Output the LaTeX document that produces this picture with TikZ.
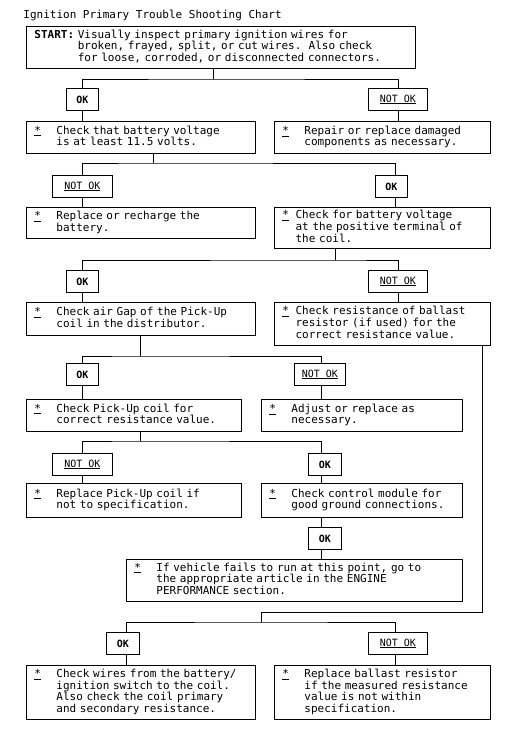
\documentclass[tikz,border=0pt]{standalone}
\usepackage{fontspec}
\setmainfont{DejaVu Sans Mono}
\begin{document}
\fontsize{11pt}{11pt}\selectfont
\newcommand{\stx}[2]{\begin{tabular}[c]{@{}p{#1}@{}l@{}}\underline{*}&\begin{tabular}[t]{@{}l@{}}#2\end{tabular}\end{tabular}}
\begin{tikzpicture}[x=1pt,y=-1pt,line width=0.8pt,
  box/.style={draw,anchor=north west,align=left,inner xsep=8pt,inner ysep=0pt,font=\fontsize{11pt}{11pt}\selectfont},
  ok/.style={draw,anchor=north west,inner sep=0pt,minimum height=22pt,font=\fontsize{10pt}{10pt}\selectfont\bfseries},
  nok/.style={draw,anchor=north west,inner sep=0pt,minimum height=22pt,font=\fontsize{10pt}{10pt}\selectfont}]
\useasboundingbox (0,0) rectangle (514,735);
\node[anchor=west,inner sep=0pt] (title) at (23,15) {Ignition Primary Trouble Shooting Chart};
\node[box,minimum width=389pt,minimum height=42pt,text width=373pt] (start) at (26,26)
 {\begin{tabular}{@{}l@{ }l@{}}\textbf{START:}&Visually inspect primary ignition wires for\\&broken, frayed, split, or cut wires.\ \ Also check\\&for loose, corroded, or disconnected connectors.\end{tabular}};
% level 1
\node[ok,minimum width=32pt] (ok1) at (66,88) {OK};
\node[nok,minimum width=59pt] (nok1) at (368,88) {\underline{NOT OK}};
\node[box,minimum width=229pt,minimum height=32pt,text width=213pt] (a) at (26,121) {\stx{2em}{Check that battery voltage\\is at least 11.5 volts.}};
\node[box,minimum width=216pt,minimum height=32pt,text width=200pt] (b) at (274,121) {\stx{2em}{Repair or replace damaged\\components as necessary.}};
% level 2
\node[nok,minimum width=60pt] (nok2) at (52,175) {\underline{NOT OK}};
\node[ok,minimum width=32pt] (ok2) at (375,175) {OK};
\node[box,minimum width=229pt,minimum height=31pt,text width=213pt] (c) at (26,207) {\stx{2em}{Replace or recharge the\\battery.}};
\node[box,minimum width=216pt,minimum height=41pt,text width=200pt] (d) at (274,207) {\stx{1.2em}{Check for battery voltage\\at the positive terminal of\\the coil.}};
% level 3
\node[ok,minimum width=32pt] (ok3) at (66,270) {OK};
\node[nok,minimum width=59pt] (nok3) at (368,270) {\underline{NOT OK}};
\node[box,minimum width=229pt,minimum height=33pt,text width=213pt] (e) at (26,302) {\stx{2em}{Check air Gap of the Pick-Up\\coil in the distributor.}};
\node[box,minimum width=216pt,minimum height=43pt,text width=200pt] (f) at (274,302) {\stx{1.2em}{Check resistance of ballast\\resistor (if used) for the\\correct resistance value.}};
% level 4
\node[ok,minimum width=32pt] (ok4) at (66,363) {OK};
\node[nok,minimum width=51pt] (nok4) at (294,363) {\underline{NOT OK}};
\node[box,minimum width=215pt,minimum height=32pt,text width=199pt] (g) at (26,399) {\stx{2em}{Check Pick-Up coil for\\correct resistance value.}};
\node[box,minimum width=201pt,minimum height=32pt,text width=185pt] (h) at (261,399) {\stx{2em}{Adjust or replace as\\necessary.}};
% level 5
\node[nok,minimum width=60pt] (nok5) at (52,453) {\underline{NOT OK}};
\node[ok,minimum width=33pt] (ok5) at (308,453) {OK};
\node[box,minimum width=215pt,minimum height=34pt,text width=199pt] (i) at (26,483) {\stx{2em}{Replace Pick-Up coil if\\not to specification.}};
\node[box,minimum width=201pt,minimum height=34pt,text width=185pt] (j) at (261,483) {\stx{2em}{Check control module for\\good ground connections.}};
\node[ok,minimum width=33pt] (ok6) at (308,527) {OK};
\node[box,minimum width=336pt,minimum height=42pt,text width=320pt] (k) at (126,559) {\stx{2em}{If vehicle fails to run at this point, go to\\the appropriate article in the ENGINE\\PERFORMANCE section.}};
% bottom
\node[ok,minimum width=33pt] (ok7) at (106,632) {OK};
\node[nok,minimum width=59pt] (nok7) at (368,632) {\underline{NOT OK}};
\node[box,minimum width=229pt,minimum height=54pt,text width=213pt] (l) at (26,665) {\stx{2em}{Check wires from the battery/\\ignition switch to the coil.\\Also check the coil primary\\and secondary resistance.}};
\node[box,minimum width=216pt,minimum height=54pt,text width=200pt] (m) at (274,665) {\stx{2em}{Replace ballast resistor\\if the measured resistance\\value is not within\\specification.}};
% junctions
\coordinate (j1) at (213,79);
\coordinate (j2) at (153,163);
\coordinate (j3) at (335,260);
\coordinate (j4) at (140,356);
\coordinate (j5) at (140,441);
\coordinate (j6a) at (482,612);
\coordinate (j6) at (261,622);
\draw (j1 |- start.south) -- (j1);
\draw (ok1.north) |- (j1) -| (nok1.north);
\draw (ok1.south) -- (ok1.south |- a.north);
\draw (nok1.south) -- (nok1.south |- b.north);
\draw (j2 |- a.south) -- (j2);
\draw (nok2.north -| 82,0) |- (j2) -| (ok2.north -| 395,0);
\draw (82,0 |- nok2.south) -- (82,0 |- c.north);
\draw (395,0 |- ok2.south) -- (395,0 |- d.north);
\draw (j3 |- d.south) -- (j3);
\draw (ok3.north) |- (j3) -| (nok3.north);
\draw (ok3.south) -- (ok3.south |- e.north);
\draw (nok3.south) -- (nok3.south |- f.north);
\draw (j4 |- e.south) -- (j4);
\draw (ok4.north) |- (j4) -| (321,0 |- nok4.north);
\draw (ok4.south) -- (ok4.south |- g.north);
\draw (321,0 |- nok4.south) -- (321,0 |- h.north);
\draw (j5 |- g.south) -- (j5);
\draw (82,0 |- nok5.north) |- (j5) -| (321,0 |- ok5.north);
\draw (82,0 |- nok5.south) -- (82,0 |- i.north);
\draw (321,0 |- ok5.south) -- (321,0 |- j.north);
\draw (321,0 |- j.south) -- (321,0 |- ok6.north);
\draw (321,0 |- ok6.south) -- (321,0 |- k.north);
\draw (j6a |- f.south) -- (j6a) -| (j6);
\draw (126,0 |- ok7.north) |- (j6) -| (395,0 |- nok7.north);
\draw (126,0 |- ok7.south) -- (126,0 |- l.north);
\draw (395,0 |- nok7.south) -- (395,0 |- m.north);
\end{tikzpicture}
\end{document}
